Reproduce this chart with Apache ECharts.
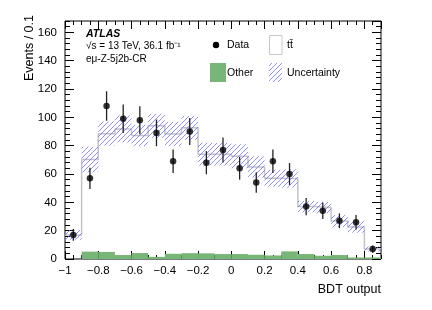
<!DOCTYPE html>
<html>
<head>
<meta charset="utf-8">
<script src="https://cdn.jsdelivr.net/npm/echarts@6/dist/echarts.min.js"></script>
<style>html,body{margin:0;padding:0;background:#fff;}#c{width:432px;height:310px;}</style>
</head>
<body>
<div id="c"></div>
<script>
// ---- data ----
const binEdges = [-1, -0.9, -0.8, -0.7, -0.6, -0.5, -0.4, -0.3, -0.2, -0.1, 0, 0.1, 0.2, 0.3, 0.4, 0.5, 0.6, 0.7, 0.8, 0.9];
const dataValues = [17, 57, 108, 99, 98, 89, 69, 90, 68, 77, 64, 54, 69, 60, 37, 34, 27, 26, 7];
const dataErrors = [4.1, 7.5, 10.4, 10, 9.9, 9.4, 8.3, 9.5, 8.2, 8.8, 8, 7.3, 8.3, 7.7, 6.1, 5.8, 5.2, 5.1, 2.6];
const ttbarValues = [17, 65, 83.5, 89, 83, 92.5, 84.5, 88.5, 70, 70.5, 69, 62, 54.5, 51.5, 33.5, 34, 24, 21.5, 6];
const otherValues = [0, 5.2, 5, 2.8, 4.2, 1.5, 3.7, 4.1, 4, 3.5, 3.5, 3, 2.5, 5.4, 3.5, 2.3, 2.8, 1.1, 1.1];
const uncertValues = [3.5, 9, 8.5, 9.5, 7.5, 8.5, 8.5, 8.5, 8, 8, 8.5, 7.5, 6, 6.5, 4, 4, 4.2, 4, 1.8];
const xTickLabels = ['\u22121', '\u22120.8', '\u22120.6', '\u22120.4', '\u22120.2', '0', '0.2', '0.4', '0.6', '0.8'];
const yTickLabels = ['0', '20', '40', '60', '80', '100', '120', '140', '160'];

// ---- build table ----
const rows = dataValues.map((d, i) => {
  const lo = binEdges[i], hi = binEdges[i + 1];
  const tot = ttbarValues[i] + otherValues[i];
  return [lo, hi, (lo + hi) / 2, d, dataErrors[i], ttbarValues[i], otherValues[i], tot, uncertValues[i]];
});
const stepData = rows.map(r => [r[0], r[7]]);
stepData.push([rows[rows.length - 1][1], rows[rows.length - 1][7]]);

const FONT = '"Liberation Sans", Arial, Helvetica, sans-serif';
const GREEN = '#78b678';

function makeHatch() {
  const s = 5;
  const c = document.createElement('canvas');
  c.width = s; c.height = s;
  const g = c.getContext('2d');
  g.strokeStyle = 'rgba(105,105,255,0.75)';
  g.lineWidth = 1;
  g.beginPath();
  g.moveTo(0, s); g.lineTo(s, 0);
  g.moveTo(-1, 1); g.lineTo(1, -1);
  g.moveTo(s - 1, s + 1); g.lineTo(s + 1, s - 1);
  g.stroke();
  return c;
}
const hatchPattern = { image: makeHatch(), repeat: 'repeat' };

function xLabel(v) {
  const idx = Math.round((v + 1) / 0.2);
  return xTickLabels[idx] !== undefined ? xTickLabels[idx] : '';
}
function yLabel(v) {
  const idx = Math.round(v / 20);
  return yTickLabels[idx] !== undefined ? yTickLabels[idx] : '';
}

const baseAxis = {
  type: 'value',
  axisLine: { show: false, onZero: false },
  splitLine: { show: false },
  minorTick: { show: false }
};
const tickLine = { color: '#000', width: 1 };

function xAx(pos, interval, len, labels) {
  return Object.assign({}, baseAxis, {
    position: pos, min: -1, max: 0.9, interval: interval,
    axisTick: { show: true, inside: true, length: len, lineStyle: tickLine },
    axisLabel: labels ? { show: true, formatter: xLabel, showMaxLabel: false, margin: 6, fontSize: 11.5, color: '#000', fontFamily: FONT } : { show: false }
  });
}
function yAx(pos, interval, len, labels) {
  return Object.assign({}, baseAxis, {
    position: pos, min: 0, max: 168, interval: interval,
    axisTick: { show: true, inside: true, length: len, lineStyle: tickLine },
    axisLabel: labels ? { show: true, formatter: yLabel, showMaxLabel: false, margin: 8, fontSize: 11.5, color: '#000', fontFamily: FONT } : { show: false }
  });
}

const chart = echarts.init(document.getElementById('c'), null, { renderer: 'canvas' });
const option = {
  animation: false,
  backgroundColor: '#fff',
  textStyle: { fontFamily: FONT },
  grid: { left: 65, right: 51, top: 21, bottom: 51, show: true, borderColor: '#000', borderWidth: 1, backgroundColor: 'transparent' },
  xAxis: [xAx('bottom', 0.2, 8, true), xAx('bottom', 0.05, 4, false), xAx('top', 0.2, 8, false), xAx('top', 0.05, 4, false)],
  yAxis: [yAx('left', 20, 9, true), yAx('left', 4, 5, false), yAx('right', 20, 9, false), yAx('right', 4, 5, false)],
  series: [
    {
      name: 'Other', type: 'custom', xAxisIndex: 0, yAxisIndex: 0, z: 1, clip: true,
      data: rows, encode: { x: [0, 1], y: [6] },
      renderItem: function (params, api) {
        const p0 = api.coord([api.value(0), 0]);
        const p1 = api.coord([api.value(1), api.value(6)]);
        return { type: 'rect', shape: { x: p0[0], y: p1[1], width: p1[0] - p0[0], height: p0[1] - p1[1] }, style: { fill: GREEN } };
      }
    },
    {
      name: 'ttbar', type: 'line', xAxisIndex: 0, yAxisIndex: 0, z: 2, step: 'end',
      data: stepData, showSymbol: false, symbol: 'none',
      lineStyle: { color: '#c4c4c4', width: 1.5 }
    },
    {
      name: 'Uncertainty', type: 'custom', xAxisIndex: 0, yAxisIndex: 0, z: 3, clip: true,
      data: rows, encode: { x: [0, 1], y: [7] },
      renderItem: function (params, api) {
        const tot = api.value(7), u = api.value(8);
        const a = api.coord([api.value(0), tot + u]);
        const b = api.coord([api.value(1), tot - u]);
        return { type: 'rect', shape: { x: a[0], y: a[1], width: b[0] - a[0], height: b[1] - a[1] }, style: { fill: hatchPattern } };
      }
    },
    {
      name: 'DataErr', type: 'custom', xAxisIndex: 0, yAxisIndex: 0, z: 4,
      data: rows, encode: { x: [2], y: [3] },
      renderItem: function (params, api) {
        const x = api.value(2), d = api.value(3), e = api.value(4);
        const a = api.coord([x, d + e]);
        const b = api.coord([x, d - e]);
        return { type: 'line', shape: { x1: a[0], y1: a[1], x2: b[0], y2: b[1] }, style: { stroke: '#222', lineWidth: 1.3 } };
      }
    },
    {
      name: 'Data', type: 'scatter', xAxisIndex: 0, yAxisIndex: 0, z: 5,
      data: rows, encode: { x: 2, y: 3 },
      symbol: 'circle', symbolSize: 6.5, itemStyle: { color: '#000' }
    }
  ],
  graphic: [
    { type: 'text', x: 30, y: 15, rotation: Math.PI / 2, style: { text: 'Events / 0.1', font: '12.5px ' + FONT, fill: '#000', align: 'right', textAlign: 'right', verticalAlign: 'middle', textVerticalAlign: 'middle' } },
    { type: 'text', x: 381, y: 290, style: { text: 'BDT output', font: '12.5px ' + FONT, fill: '#000', align: 'right', textAlign: 'right', verticalAlign: 'middle', textVerticalAlign: 'middle' } },
    { type: 'text', x: 86, y: 34, style: { text: 'ATLAS', font: 'italic bold 10.5px ' + FONT, fill: '#000', verticalAlign: 'middle', textVerticalAlign: 'middle' } },
    { type: 'text', x: 86, y: 46, style: { text: '\u221As = 13 TeV, 36.1 fb\u207B\u00B9', font: '10px ' + FONT, fill: '#000', verticalAlign: 'middle', textVerticalAlign: 'middle' } },
    { type: 'text', x: 86, y: 59, style: { text: 'e\u03BC-Z-5j2b-CR', font: '10px ' + FONT, fill: '#000', verticalAlign: 'middle', textVerticalAlign: 'middle' } },
    { type: 'circle', shape: { cx: 216, cy: 45, r: 3.2 }, style: { fill: '#000' } },
    { type: 'text', x: 227, y: 45, style: { text: 'Data', font: '10.5px ' + FONT, fill: '#000', verticalAlign: 'middle', textVerticalAlign: 'middle' } },
    { type: 'rect', shape: { x: 269.5, y: 35.5, width: 12.5, height: 19 }, style: { fill: '#fff', stroke: '#c8c8c8', lineWidth: 1 } },
    { type: 'text', x: 287, y: 45, style: { text: 't\u0074\u0304', font: '10.5px ' + FONT, fill: '#000', verticalAlign: 'middle', textVerticalAlign: 'middle' } },
    { type: 'rect', shape: { x: 210, y: 63, width: 16, height: 19 }, style: { fill: GREEN } },
    { type: 'text', x: 227, y: 73, style: { text: 'Other', font: '10.5px ' + FONT, fill: '#000', verticalAlign: 'middle', textVerticalAlign: 'middle' } },
    { type: 'rect', shape: { x: 269, y: 63, width: 13, height: 19 }, style: { fill: hatchPattern } },
    { type: 'text', x: 287, y: 73, style: { text: 'Uncertainty', font: '10.5px ' + FONT, fill: '#000', verticalAlign: 'middle', textVerticalAlign: 'middle' } }
  ]
};
chart.setOption(option);
</script>
</body>
</html>
